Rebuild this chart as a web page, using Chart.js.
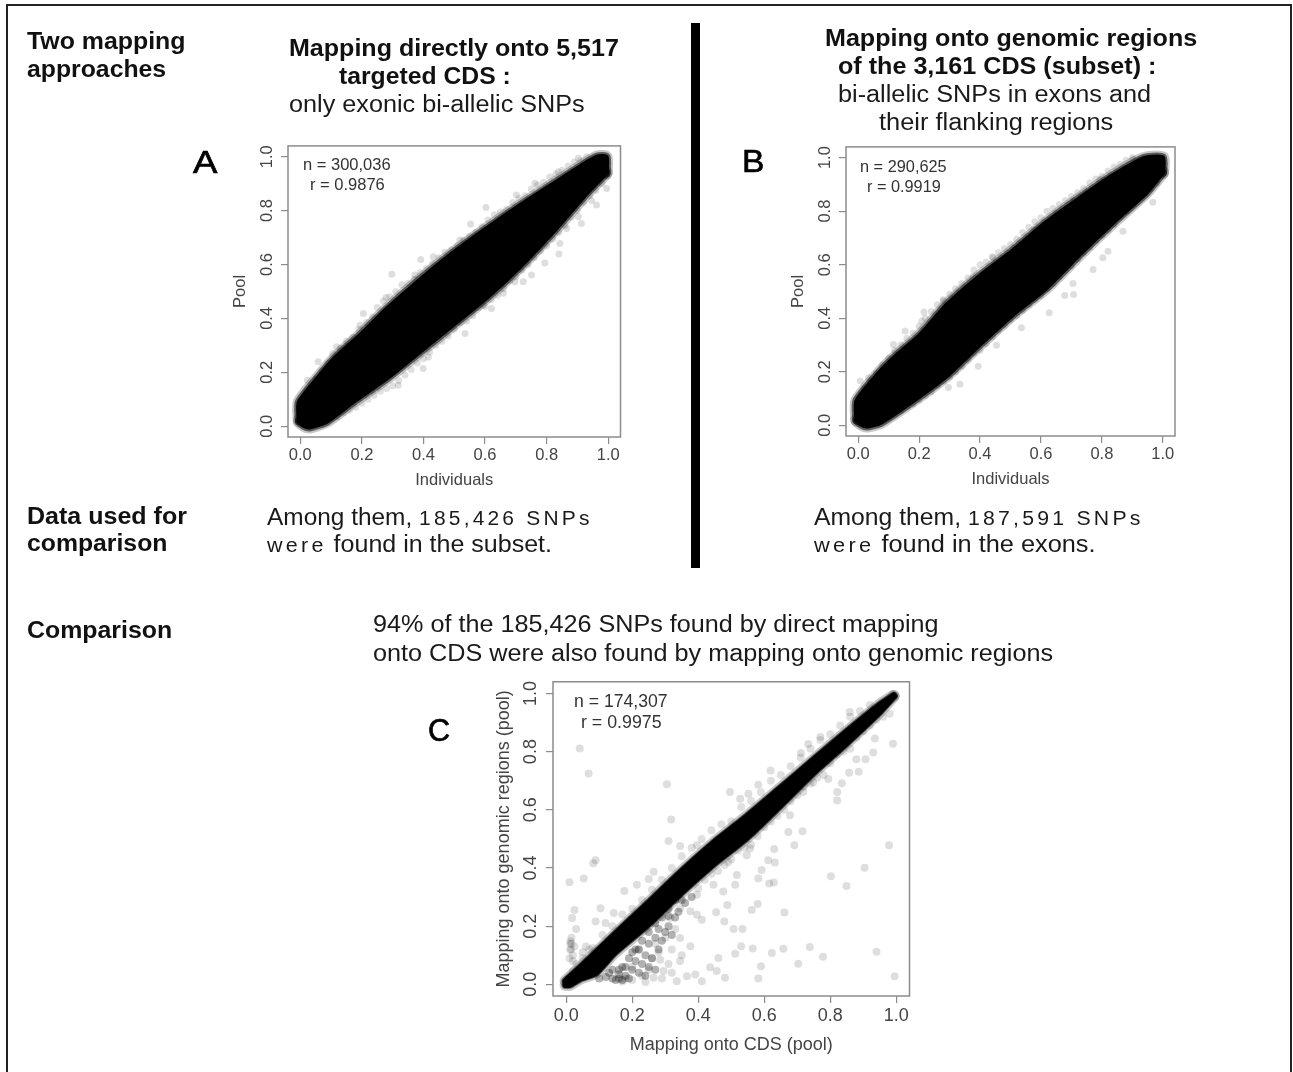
<!DOCTYPE html>
<html>
<head>
<meta charset="utf-8">
<title>Two mapping approaches</title>
<script src="https://cdn.jsdelivr.net/npm/chart.js@4"></script>
<style>
  html, body { margin: 0; padding: 0; background: #fff; }
  #page { position: relative; width: 1293px; height: 1072px; overflow: hidden; }
  #frame { position: absolute; left: 6px; top: 4px; width: 1282px; height: 1080px; border: 2px solid #222; }
  #bar { position: absolute; left: 691px; top: 23px; width: 9px; height: 545px; background: #000; }
  canvas { position: absolute; filter: blur(0.7px); }
  .txt { position: absolute; white-space: pre; font-family: "Liberation Sans", sans-serif; transform-origin: 0 0; line-height: 1; color: #1a1a1a; filter: blur(0.35px); }
  .b { font-weight: bold; color: #111; }
  .note { color: #333; }
  .big { -webkit-text-stroke: 0.7px #000; color: #000; }
  .sp { letter-spacing: 3px; font-size: 0.86em; }
</style>
</head>
<body>
<div id="page"><div id="frame"></div><div id="bar"></div></div>
<script>
// axis ticks, same for all three panels
const tickValues = [0, 0.2, 0.4, 0.6, 0.8, 1.0];

// panel A: outline of the black cloud, then points along its edge, then loose points
const aUpperX = [-0.002, -0.002, 0.064, 0.118, 0.2, 0.28, 0.389, 0.497, 0.605, 0.713, 0.821, 0.93, 0.965, 0.992, 0.992];
const aUpperY = [0.02, 0.088, 0.185, 0.255, 0.34, 0.43, 0.54, 0.64, 0.73, 0.815, 0.895, 0.975, 0.997, 0.997, 0.94];
const aLowerX = [-0.002, 0.012, 0.03, 0.085, 0.172, 0.28, 0.389, 0.497, 0.605, 0.713, 0.821, 0.93, 0.992];
const aLowerY = [0.02, 0.005, -0.001, 0.02, 0.094, 0.18, 0.28, 0.38, 0.48, 0.595, 0.725, 0.868, 0.94];
const aEdgeX = [0.02, 0.035, 0.05, 0.07, 0.09, 0.105, 0.13, 0.15, 0.17, 0.19, 0.215, 0.235, 0.25, 0.27, 0.29, 0.31, 0.33, 0.35, 0.37, 0.39, 0.41, 0.43, 0.45, 0.47, 0.49, 0.51, 0.53, 0.55, 0.57, 0.59, 0.61, 0.63, 0.65, 0.67, 0.69, 0.71, 0.73, 0.75, 0.77, 0.79, 0.81, 0.83, 0.85, 0.87, 0.89, 0.91, 0.93,
    0.1, 0.12, 0.14, 0.16, 0.18, 0.2, 0.22, 0.24, 0.26, 0.28, 0.3, 0.32, 0.34, 0.36, 0.38, 0.4, 0.42, 0.44, 0.46, 0.48, 0.5, 0.52, 0.54, 0.56, 0.58, 0.6, 0.62, 0.64, 0.66, 0.68, 0.7, 0.72, 0.74, 0.76, 0.78, 0.8, 0.82, 0.84, 0.86, 0.88, 0.9, 0.92, 0.94, 0.96, 0.98];
const aEdgeY = [0.125, 0.145, 0.175, 0.205, 0.235, 0.27, 0.29, 0.315, 0.33, 0.36, 0.385, 0.405, 0.44, 0.465, 0.48, 0.5, 0.525, 0.53, 0.545, 0.57, 0.585, 0.605, 0.625, 0.645, 0.655, 0.67, 0.69, 0.705, 0.72, 0.74, 0.765, 0.785, 0.795, 0.805, 0.83, 0.845, 0.855, 0.88, 0.895, 0.905, 0.925, 0.935, 0.95, 0.965, 0.98, 0.985, 1.0,
    0.03, 0.035, 0.05, 0.06, 0.07, 0.085, 0.1, 0.115, 0.13, 0.14, 0.15, 0.17, 0.19, 0.21, 0.235, 0.25, 0.275, 0.3, 0.315, 0.335, 0.36, 0.385, 0.39, 0.41, 0.44, 0.445, 0.47, 0.485, 0.51, 0.54, 0.555, 0.58, 0.6, 0.625, 0.65, 0.67, 0.695, 0.72, 0.745, 0.775, 0.8, 0.83, 0.855, 0.875, 0.9];
const aStrayX = [0.603, 0.553, 0.391, 0.297, 0.205, 0.194, 0.118, 0.058, 0.023, 0.278, 0.372, 0.432, 0.518, 0.702, 0.762, 0.838, 0.903, 0.399, 0.318, 0.416, 0.535, 0.621, 0.659, 0.697, 0.751, 0.724, 0.794, 0.84, 0.843, 0.913, 0.962, 0.946, 0.995, 0.903, 0.865, 0.594, 0.562];
const aStrayY = [0.811, 0.75, 0.619, 0.564, 0.418, 0.375, 0.295, 0.239, 0.171, 0.478, 0.561, 0.629, 0.691, 0.858, 0.901, 0.944, 0.994, 0.214, 0.152, 0.257, 0.344, 0.437, 0.493, 0.536, 0.561, 0.536, 0.606, 0.639, 0.678, 0.752, 0.821, 0.837, 0.882, 0.777, 0.734, 0.449, 0.431];

// panel B
const bUpperX = [-0.003, -0.003, 0.072, 0.127, 0.203, 0.29, 0.4, 0.509, 0.618, 0.727, 0.836, 0.924, 0.95, 0.998, 0.998];
const bUpperY = [0.02, 0.09, 0.196, 0.258, 0.333, 0.445, 0.555, 0.65, 0.755, 0.845, 0.93, 0.988, 0.998, 0.998, 0.945];
const bLowerX = [-0.003, 0.012, 0.03, 0.072, 0.181, 0.29, 0.4, 0.509, 0.618, 0.727, 0.836, 0.945, 0.998];
const bLowerY = [0.02, 0.005, -0.001, 0.012, 0.095, 0.188, 0.306, 0.418, 0.517, 0.642, 0.76, 0.872, 0.945];
const bEdgeX = [0.02, 0.04, 0.06, 0.08, 0.1, 0.12, 0.14, 0.16, 0.18, 0.2, 0.22, 0.24, 0.26, 0.28, 0.3, 0.32, 0.34, 0.36, 0.38, 0.4, 0.42, 0.44, 0.46, 0.48, 0.5, 0.52, 0.54, 0.56, 0.58, 0.6, 0.62, 0.64, 0.66, 0.68, 0.7, 0.72, 0.74, 0.76, 0.78, 0.8, 0.82, 0.84, 0.86, 0.88, 0.9,
    0.1, 0.12, 0.14, 0.16, 0.18, 0.2, 0.22, 0.24, 0.26, 0.28, 0.3, 0.32, 0.34, 0.36, 0.38, 0.4, 0.42, 0.44, 0.46, 0.48, 0.5, 0.52, 0.54, 0.56, 0.58, 0.6, 0.62, 0.64, 0.66, 0.68, 0.7, 0.72, 0.74, 0.76, 0.78, 0.8, 0.82, 0.84, 0.86, 0.88, 0.9, 0.92, 0.94, 0.96, 0.98];
const bEdgeY = [0.14, 0.165, 0.195, 0.225, 0.25, 0.28, 0.3, 0.325, 0.345, 0.37, 0.4, 0.425, 0.45, 0.47, 0.49, 0.51, 0.53, 0.55, 0.58, 0.6, 0.61, 0.63, 0.645, 0.66, 0.675, 0.695, 0.72, 0.74, 0.76, 0.775, 0.8, 0.81, 0.825, 0.84, 0.855, 0.87, 0.885, 0.905, 0.92, 0.93, 0.95, 0.965, 0.975, 0.99, 1.0,
    0.03, 0.045, 0.055, 0.07, 0.08, 0.095, 0.11, 0.125, 0.15, 0.165, 0.18, 0.2, 0.22, 0.245, 0.27, 0.28, 0.305, 0.33, 0.355, 0.375, 0.395, 0.41, 0.43, 0.45, 0.47, 0.485, 0.51, 0.53, 0.555, 0.58, 0.595, 0.62, 0.645, 0.665, 0.69, 0.71, 0.73, 0.75, 0.78, 0.8, 0.825, 0.85, 0.865, 0.885, 0.905];
const bStrayX = [0.216, 0.209, 0.154, 0.116, 0.034, 0.007, 0.443, 0.378, 0.279, 0.651, 0.58, 0.705, 0.793, 0.902, 0.627, 0.678, 0.707, 0.536, 0.454, 0.394, 0.334, 0.296, 0.771, 0.803, 0.82, 0.869, 0.967, 0.705];
const bStrayY = [0.423, 0.389, 0.352, 0.302, 0.178, 0.165, 0.626, 0.557, 0.464, 0.787, 0.731, 0.837, 0.918, 0.993, 0.42, 0.485, 0.489, 0.364, 0.299, 0.221, 0.153, 0.141, 0.582, 0.626, 0.65, 0.725, 0.833, 0.53];

// panel C, with a darker patch under the diagonal near the origin
const cUpperX = [-0.002, 0.043, 0.144, 0.245, 0.345, 0.446, 0.547, 0.648, 0.748, 0.849, 0.95, 0.992];
const cUpperY = [0.012, 0.058, 0.168, 0.276, 0.384, 0.486, 0.577, 0.674, 0.771, 0.868, 0.961, 0.992];
const cLowerX = [-0.002, 0.01, 0.043, 0.09, 0.144, 0.245, 0.345, 0.446, 0.547, 0.648, 0.748, 0.849, 0.95, 0.992];
const cLowerY = [-0.002, -0.002, 0.02, 0.04, 0.106, 0.203, 0.311, 0.413, 0.504, 0.614, 0.726, 0.829, 0.937, 0.99];
const cDarkX = [0.1, 0.12, 0.14, 0.15, 0.16, 0.17, 0.18, 0.19, 0.14, 0.16, 0.18, 0.2, 0.22, 0.24, 0.21, 0.23, 0.25, 0.27, 0.2, 0.22, 0.24, 0.26, 0.28, 0.25, 0.27, 0.29, 0.31, 0.3, 0.28, 0.32, 0.33, 0.31, 0.34, 0.36, 0.38, 0.35, 0.17, 0.19, 0.21, 0.23, 0.25, 0.27, 0.29, 0.31, 0.33, 0.16, 0.13];
const cDarkY = [0.02, 0.025, 0.02, 0.015, 0.02, 0.015, 0.03, 0.02, 0.05, 0.05, 0.06, 0.05, 0.04, 0.03, 0.08, 0.07, 0.06, 0.05, 0.11, 0.12, 0.1, 0.09, 0.12, 0.14, 0.16, 0.15, 0.2, 0.18, 0.19, 0.17, 0.23, 0.235, 0.25, 0.28, 0.3, 0.29, 0.06, 0.09, 0.12, 0.15, 0.18, 0.21, 0.23, 0.26, 0.29, 0.035, 0.04];
const cEdgeX = [0.4, 0.42, 0.44, 0.46, 0.48, 0.5, 0.52, 0.54, 0.56, 0.58, 0.6, 0.62, 0.64, 0.66, 0.68, 0.7, 0.72, 0.74, 0.76, 0.78, 0.8, 0.82, 0.84, 0.86, 0.88, 0.9, 0.92, 0.94, 0.96, 0.98,
    0.02, 0.05, 0.08, 0.11, 0.14, 0.17, 0.2, 0.23, 0.26, 0.29, 0.32, 0.35, 0.38, 0.41, 0.44, 0.47, 0.5, 0.53, 0.56, 0.59, 0.62, 0.65, 0.68, 0.71, 0.74, 0.77, 0.8, 0.83, 0.86, 0.89, 0.92,
    0.015, 0.012, 0.016, 0.01, 0.02, 0.025, 0.03, 0.05, 0.06, 0.07];
const cEdgeY = [0.33, 0.36, 0.38, 0.39, 0.41, 0.43, 0.46, 0.47, 0.48, 0.51, 0.54, 0.56, 0.58, 0.6, 0.63, 0.65, 0.68, 0.69, 0.71, 0.72, 0.76, 0.79, 0.8, 0.81, 0.85, 0.87, 0.89, 0.91, 0.92, 0.93,
    0.045, 0.09, 0.125, 0.17, 0.2, 0.24, 0.26, 0.29, 0.325, 0.36, 0.4, 0.44, 0.47, 0.5, 0.53, 0.55, 0.56, 0.61, 0.63, 0.66, 0.7, 0.72, 0.75, 0.78, 0.81, 0.84, 0.86, 0.89, 0.92, 0.94, 0.96,
    0.12, 0.14, 0.16, 0.09, 0.1, 0.13, 0.07, 0.11, 0.13, 0.12];
const cStrayX = [0.041, 0.068, 0.089, 0.082, 0.053, 0.01, 0.025, 0.018, 0.013, 0.305, 0.496, 0.318, 0.31, 0.345, 0.859, 0.77, 0.733, 0.711, 0.619, 0.582, 0.552, 0.527, 0.99, 0.935, 0.93, 0.907, 0.886, 0.857, 0.835, 0.821, 0.821, 0.978, 0.904, 0.849, 0.802, 0.716, 0.691, 0.63, 0.673, 0.592, 0.582, 0.612, 0.632, 0.615, 0.629, 0.661, 0.58, 0.562, 0.507, 0.534, 0.479, 0.488, 0.454, 0.411, 0.94, 0.995, 0.778, 0.738, 0.703, 0.658, 0.623, 0.59, 0.582, 0.565, 0.53, 0.512, 0.481, 0.461, 0.456, 0.436, 0.411, 0.391, 0.366, 0.335, 0.345, 0.376, 0.345, 0.32, 0.295, 0.265, 0.285, 0.345, 0.315, 0.376, 0.396, 0.396, 0.446, 0.517, 0.476, 0.512, 0.547, 0.491, 0.557, 0.265, 0.25, 0.214, 0.176, 0.104, 0.144, 0.089, 0.119, 0.396, 0.748, 0.794, 0.879, 0.698, 0.718, 0.678, 0.2, 0.23, 0.26, 0.18, 0.22, 0.25, 0.28, 0.3, 0.33, 0.31, 0.27, 0.17, 0.2, 0.24, 0.29, 0.32, 0.35, 0.016, 0.03, 0.012, 0.02];
const cStrayY = [0.811, 0.725, 0.427, 0.416, 0.364, 0.351, 0.256, 0.228, 0.148, 0.688, 0.661, 0.567, 0.493, 0.476, 0.936, 0.85, 0.826, 0.795, 0.735, 0.686, 0.655, 0.638, 0.827, 0.845, 0.797, 0.774, 0.731, 0.727, 0.691, 0.661, 0.632, 0.478, 0.401, 0.338, 0.372, 0.526, 0.478, 0.465, 0.524, 0.393, 0.364, 0.427, 0.419, 0.347, 0.35, 0.247, 0.276, 0.256, 0.19, 0.19, 0.216, 0.273, 0.248, 0.222, 0.112, 0.028, 0.095, 0.128, 0.071, 0.122, 0.108, 0.062, 0.02, 0.123, 0.131, 0.105, 0.023, 0.091, 0.046, 0.059, 0.011, 0.034, 0.028, 0.011, 0.08, 0.131, 0.159, 0.12, 0.046, 0.023, 0.085, 0.262, 0.228, 0.251, 0.239, 0.308, 0.342, 0.376, 0.319, 0.342, 0.444, 0.421, 0.467, 0.387, 0.362, 0.342, 0.321, 0.262, 0.245, 0.216, 0.211, 0.478, 0.695, 0.706, 0.774, 0.672, 0.661, 0.581, 0.06, 0.03, 0.09, 0.02, 0.12, 0.05, 0.11, 0.16, 0.19, 0.07, 0.14, 0.01, 0.015, 0.008, 0.02, 0.04, 0.1, 0.14, 0.19, 0.12, 0.08];

function pairs(xs, ys) {
    return xs.map((x, i) => ({ x: x, y: ys[i] }));
}

// box round the plot area, R style
const boxPlugin = {
    id: 'box',
    afterDraw(chart) {
        const a = chart.chartArea;
        const ctx = chart.ctx;
        ctx.save();
        ctx.strokeStyle = '#8c8c8c';
        ctx.lineWidth = 1.5;
        ctx.strokeRect(a.left, a.top, a.right - a.left, a.bottom - a.top);
        ctx.restore();
    }
};

function axis(cfg, title, isY) {
    const font = { family: '"Liberation Sans", sans-serif', size: cfg.fontSize };
    const opts = {
        type: 'linear',
        min: -0.04,
        max: 1.04,
        bounds: 'data',
        afterBuildTicks: s => { s.ticks = tickValues.map(v => ({ value: v })); },
        grid: { drawOnChartArea: false, drawTicks: true, tickLength: 7, color: '#8c8c8c', lineWidth: 1.2 },
        border: { display: false },
        ticks: {
            font: font,
            color: '#444',
            autoSkip: false,
            padding: cfg.tickPad,
            callback: v => v.toFixed(1)
        },
        title: { display: true, text: title, font: font, color: '#444', padding: { top: cfg.titlePad, bottom: cfg.titlePad } }
    };
    if (isY) {
        opts.ticks.minRotation = 90;
        opts.ticks.maxRotation = 90;
        opts.ticks.crossAlign = 'center';
        opts.afterFit = s => { s.width = cfg.yWidth; };
    } else {
        opts.ticks.maxRotation = 0;
        opts.afterFit = s => { s.height = cfg.xHeight; };
    }
    return opts;
}

function drawPanel(cfg) {
    const canvas = document.createElement('canvas');
    canvas.width = cfg.w;
    canvas.height = cfg.h;
    canvas.style.left = cfg.left + 'px';
    canvas.style.top = cfg.top + 'px';
    canvas.style.width = cfg.w + 'px';
    canvas.style.height = cfg.h + 'px';
    document.getElementById('page').appendChild(canvas);

    // wide round stroke stands in for the discs at the rim of the cloud
    const outline = (pts, fill, width, color) => ({
        data: pts, showLine: true, pointRadius: 0, borderWidth: width, borderColor: color,
        backgroundColor: color, fill: fill, tension: 0.2, borderCapStyle: 'round', borderJoinStyle: 'round'
    });
    const dots = (xs, ys, color) => ({
        data: pairs(xs, ys), pointRadius: cfg.radius, pointBorderWidth: 0, pointBackgroundColor: color, showLine: false
    });
    const up = pairs(cfg.upX, cfg.upY);
    const low = pairs(cfg.lowX, cfg.lowY);

    new Chart(canvas.getContext('2d'), {
        type: 'scatter',
        data: {
            datasets: [
                outline(up, '+1', 6, '#000'),
                outline(low, false, 6, '#000'),
                dots(cfg.darkX, cfg.darkY, 'rgba(0,0,0,0.3)'),
                dots(cfg.edgeX, cfg.edgeY, 'rgba(0,0,0,0.12)'),
                dots(cfg.strayX, cfg.strayY, 'rgba(0,0,0,0.13)'),
                outline(up, false, cfg.halo, 'rgba(0,0,0,0.55)'),
                outline(low, false, cfg.halo, 'rgba(0,0,0,0.55)'),
                outline(up, false, cfg.halo + 4, 'rgba(0,0,0,0.22)'),
                outline(low, false, cfg.halo + 4, 'rgba(0,0,0,0.22)')
            ]
        },
        plugins: [boxPlugin],
        options: {
            responsive: false,
            animation: false,
            layout: { padding: { top: 0, right: cfg.padRight, left: 0, bottom: 0 } },
            scales: { x: axis(cfg, cfg.xTitle, false), y: axis(cfg, cfg.yTitle, true) },
            plugins: { legend: { display: false }, tooltip: { enabled: false } }
        }
    });
}

drawPanel({
    left: 230, top: 134, w: 397, h: 357, yWidth: 58, xHeight: 54, padRight: 6.5, fontSize: 16.5, tickPad: 2, titlePad: 1,
    radius: 3.5, halo: 10, xTitle: 'Individuals', yTitle: 'Pool',
    upX: aUpperX, upY: aUpperY, lowX: aLowerX, lowY: aLowerY, edgeX: aEdgeX, edgeY: aEdgeY, strayX: aStrayX, strayY: aStrayY, darkX: [], darkY: []
});
drawPanel({
    left: 788, top: 135, w: 394, h: 355, yWidth: 58, xHeight: 54, padRight: 7, fontSize: 16.5, tickPad: 2, titlePad: 1,
    radius: 3.5, halo: 10, xTitle: 'Individuals', yTitle: 'Pool',
    upX: bUpperX, upY: bUpperY, lowX: bLowerX, lowY: bLowerY, edgeX: bEdgeX, edgeY: bEdgeY, strayX: bStrayX, strayY: bStrayY, darkX: [], darkY: []
});
drawPanel({
    left: 493, top: 669, w: 423, h: 387, yWidth: 60, xHeight: 60, padRight: 6.5, fontSize: 18, tickPad: 2, titlePad: 0,
    radius: 4, halo: 8, xTitle: 'Mapping onto CDS (pool)', yTitle: 'Mapping onto genomic regions (pool)',
    upX: cUpperX, upY: cUpperY, lowX: cLowerX, lowY: cLowerY, edgeX: cEdgeX, edgeY: cEdgeY, strayX: cStrayX, strayY: cStrayY, darkX: cDarkX, darkY: cDarkY
});

// page text: [html, left, baseline, target width, font size, class]
const pageTexts = [
    ['Two mapping', 27, 50, 159, 23, 'b'],
    ['approaches', 27, 78, 139, 23, 'b'],
    ['Data used for', 27, 525, 160, 23, 'b'],
    ['comparison', 27, 552, 140, 23, 'b'],
    ['Comparison', 27, 639, 145, 23, 'b'],
    ['Mapping directly onto 5,517', 289, 57, 330, 23, 'b'],
    ['targeted CDS :', 339, 85, 172, 23, 'b'],
    ['only exonic bi-allelic SNPs', 289, 113, 296, 23, ''],
    ['Mapping onto genomic regions', 825, 47, 372, 23, 'b'],
    ['of the 3,161 CDS (subset) :', 838, 75, 318, 23, 'b'],
    ['bi-allelic SNPs in exons and', 838, 103, 313, 23, ''],
    ['their flanking regions', 879, 131, 234, 23, ''],
    ['Among them, <span class="sp">185,426 SNPs</span>', 267, 526, 326, 23, ''],
    ['<span class="sp">were</span> found in the subset.', 267, 553, 285, 23, ''],
    ['Among them, <span class="sp">187,591 SNPs</span>', 814, 526, 330, 23, ''],
    ['<span class="sp">were</span> found in the exons.', 814, 553, 282, 23, ''],
    ['94% of the 185,426 SNPs found by direct mapping', 373, 633, 566, 23, ''],
    ['onto CDS were also found by mapping onto genomic regions', 373, 662, 680, 23, ''],
    ['A', 193, 174, 24, 32, 'big'],
    ['B', 742, 173, 22, 32, 'big'],
    ['C', 428, 742, 22, 32, 'big'],
    ['n = 300,036', 303, 170, 88, 16.5, 'note'],
    ['r = 0.9876', 310, 190, 75, 16.5, 'note'],
    ['n = 290,625', 860, 172, 87, 16.5, 'note'],
    ['r = 0.9919', 867, 192, 74, 16.5, 'note'],
    ['n = 174,307', 574, 707, 94, 18, 'note'],
    ['r = 0.9975', 581, 728, 81, 18, 'note']
];

// fit each line to the width
pageTexts.forEach(t => {
    const el = document.createElement('div');
    el.className = 'txt ' + t[5];
    el.innerHTML = t[0];
    el.style.fontSize = t[4] + 'px';
    el.style.left = t[1] + 'px';
    // line-height 1, baseline sits about 0.86em below the top for Liberation Sans
    el.style.top = (t[2] - t[4] * 0.86) + 'px';
    document.getElementById('page').appendChild(el);
    el.style.transform = 'scaleX(' + (t[3] / el.offsetWidth) + ')';
});
</script>
</body>
</html>
